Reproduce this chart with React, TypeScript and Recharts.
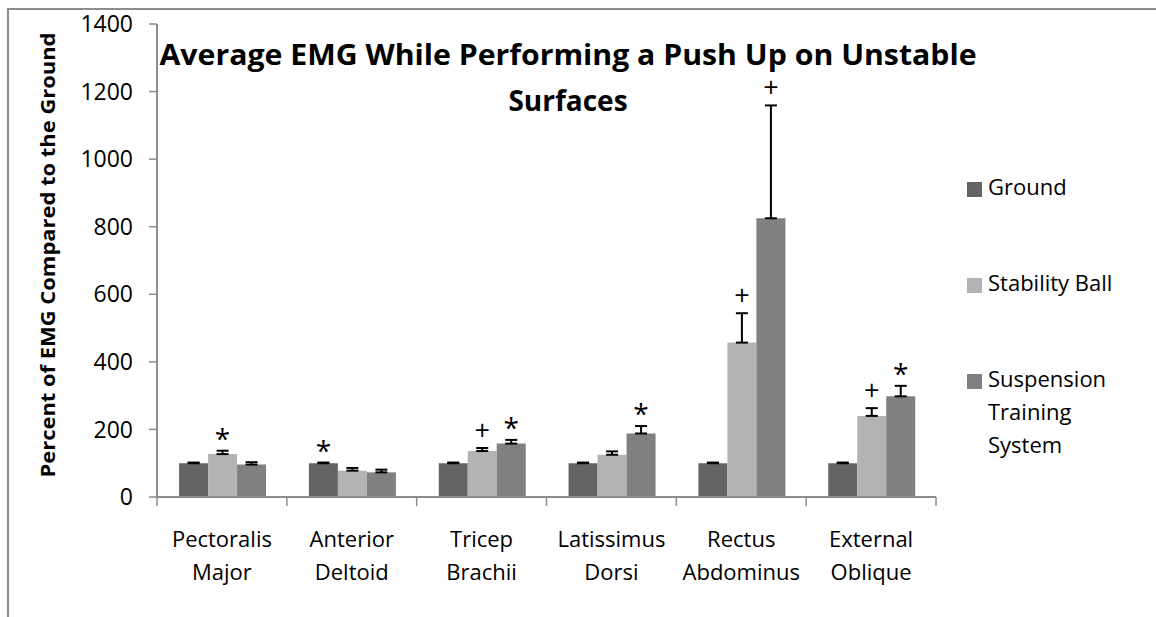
import React from "react";
import { BarChart, Bar, XAxis, YAxis, ErrorBar, LabelList, Customized } from "recharts";

// muscles on the category axis
const muscles = [
  "Pectoralis Major",
  "Anterior Deltoid",
  "Tricep Brachii",
  "Latissimus Dorsi",
  "Rectus Abdominus",
  "External Oblique",
];

// mean EMG (% of ground) and upper error for each surface
const ground = [100, 100, 100, 100, 100, 100];
const groundErr = [2, 2, 2, 2, 2, 2];
const stabilityBall = [127, 78, 136, 125, 457, 240];
const stabilityBallErr = [10, 8, 9, 10, 87, 23];
const suspension = [96, 73, 158, 188, 825, 298];
const suspensionErr = [7, 8, 11, 22, 334, 31];

// significance marks drawn above the error bars
const groundMarks = ["", "*", "", "", "", ""];
const stabilityBallMarks = ["*", "", "+", "", "+", "+"];
const suspensionMarks = ["", "", "*", "*", "+", "*"];

const yTicks = [0, 200, 400, 600, 800, 1000, 1200, 1400];

const series = [
  { key: "ground", name: "Ground", color: "#646464" },
  { key: "ball", name: "Stability Ball", color: "#b3b3b3" },
  { key: "suspension", name: "Suspension Training System", color: "#808080" },
];

const data = muscles.map((m, i) => ({
  muscle: m,
  ground: ground[i],
  groundErr: [0, groundErr[i]],
  groundMark: groundMarks[i],
  ball: stabilityBall[i],
  ballErr: [0, stabilityBallErr[i]],
  ballMark: stabilityBallMarks[i],
  suspension: suspension[i],
  suspensionErr: [0, suspensionErr[i]],
  suspensionMark: suspensionMarks[i],
}));

const FONT = "'Open Sans', 'DejaVu Sans', sans-serif";
const AXIS = "#8c8c8c";

// two-line muscle name, plus the tick marks between categories
const MuscleTick = (props: any) => {
  const { x, y, payload, index, visibleTicksCount } = props;
  const [first, second] = String(payload.value).split(" ");
  const half = payload.offset || 0;
  const last = index === (visibleTicksCount ?? muscles.length) - 1;
  return (
    <g>
      <line x1={x - half} x2={x - half} y1={y} y2={y + 9} stroke={AXIS} strokeWidth={1.5} />
      {last && <line x1={x + half} x2={x + half} y1={y} y2={y + 9} stroke={AXIS} strokeWidth={1.5} />}
      <text textAnchor="middle" fontSize={22} fill="#000" fontFamily={FONT}>
        <tspan x={x} y={y + 50}>{first}</tspan>
        <tspan x={x} y={y + 83}>{second}</tspan>
      </text>
    </g>
  );
};

// places * or + a little above the top of the error bar
const markLabel = (values: number[], errs: number[]) => (props: any) => {
  const { x, y, width, height, value, index } = props;
  if (!value) return null;
  const pxPerUnit = Math.abs(height) / values[index];
  const top = y - errs[index] * pxPerUnit;
  const cy = top - 17;
  const star = value === "*";
  return (
    <text
      x={x + width / 2}
      y={cy + (star ? 15 : 9)}
      textAnchor="middle"
      fontSize={star ? 28 : 27}
      fontFamily={FONT}
      fill="#000"
    >
      {value}
    </text>
  );
};

const Titles = () => (
  <g fontFamily={FONT} fontWeight="bold" fill="#000">
    <text x={568} y={65} fontSize={28} textAnchor="middle" textLength={817} lengthAdjust="spacingAndGlyphs">
      Average EMG While Performing a Push Up on Unstable
    </text>
    <text x={568} y={111} fontSize={28} textAnchor="middle">
      Surfaces
    </text>
    <text
      x={0}
      y={0}
      fontSize={20}
      textAnchor="middle"
      transform="translate(55 255) rotate(-90)"
      textLength={445}
      lengthAdjust="spacingAndGlyphs"
    >
      Percent of EMG Compared to the Ground
    </text>
  </g>
);

export default function App() {
  return (
    <div style={{ position: "absolute", left: 0, top: 0, width: 1156, height: 617, overflow: "hidden", background: "#fff" }}>
      <div
        style={{
          position: "absolute",
          left: 7,
          top: 8,
          width: 1200,
          height: 700,
          borderTop: `2px solid ${AXIS}`,
          borderLeft: `2px solid ${AXIS}`,
        }}
      />
      <div style={{ position: "absolute", left: 0, top: 0 }}>
        <BarChart
          width={1156}
          height={617}
          data={data}
          margin={{ top: 24, right: 220, bottom: 0, left: 0 }}
          barGap={0}
          barCategoryGap="17%"
        >
          <XAxis
            dataKey="muscle"
            interval={0}
            axisLine={{ stroke: AXIS, strokeWidth: 2 }}
            tickLine={false}
            tickSize={0}
            tickMargin={0}
            tick={<MuscleTick />}
            height={120}
          />
          <YAxis
            width={157}
            domain={[0, 1400]}
            ticks={yTicks}
            interval={0}
            tickSize={8}
            tickMargin={16}
            tickLine={{ stroke: AXIS, strokeWidth: 1.5 }}
            axisLine={{ stroke: AXIS, strokeWidth: 2 }}
            tick={{ fontSize: 23, fill: "#000", fontFamily: FONT }}
          />
          <Bar dataKey="ground" fill={series[0].color} isAnimationActive={false}>
            <ErrorBar dataKey="groundErr" width={6} stroke="#000" strokeWidth={2} direction="y" />
            <LabelList dataKey="groundMark" content={markLabel(ground, groundErr)} />
          </Bar>
          <Bar dataKey="ball" fill={series[1].color} isAnimationActive={false}>
            <ErrorBar dataKey="ballErr" width={6} stroke="#000" strokeWidth={2} direction="y" />
            <LabelList dataKey="ballMark" content={markLabel(stabilityBall, stabilityBallErr)} />
          </Bar>
          <Bar dataKey="suspension" fill={series[2].color} isAnimationActive={false}>
            <ErrorBar dataKey="suspensionErr" width={6} stroke="#000" strokeWidth={2} direction="y" />
            <LabelList dataKey="suspensionMark" content={markLabel(suspension, suspensionErr)} />
          </Bar>
          <Customized component={Titles} />
        </BarChart>
      </div>
      <div style={{ position: "absolute", left: 967, top: 174, fontFamily: FONT, fontSize: 22, color: "#000" }}>
        {series.map((s, i) => (
          <div key={s.key} style={{ display: "flex", alignItems: "flex-start", height: 96 }}>
            <div style={{ width: 15, height: 15, background: s.color, marginTop: 8, marginRight: 6 }} />
            <div style={{ width: 150, lineHeight: "33px", marginTop: -4 }}>
              {i === 2 ? (
                <>
                  Suspension
                  <br />
                  Training
                  <br />
                  System
                </>
              ) : (
                s.name
              )}
            </div>
          </div>
        ))}
      </div>
    </div>
  );
}
